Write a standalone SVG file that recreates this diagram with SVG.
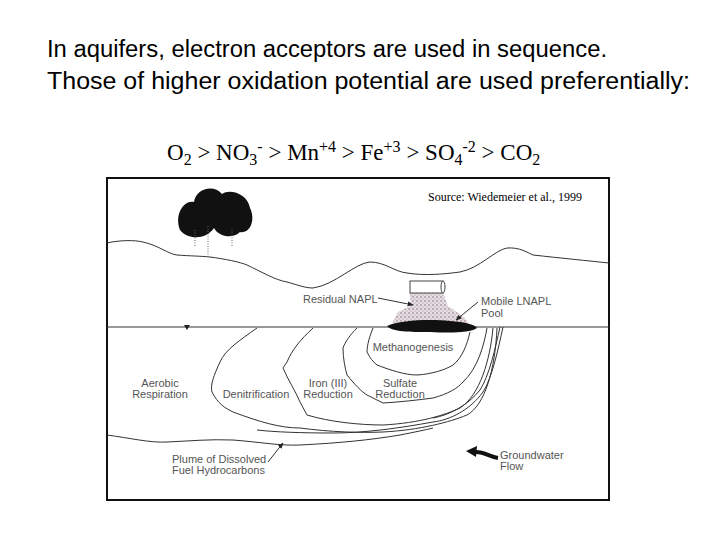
<svg xmlns="http://www.w3.org/2000/svg" width="720" height="540" viewBox="0 0 720 540">
<style>
.t{font-family:"Liberation Sans",Arial,sans-serif;font-size:23px;fill:#000}
.f{font-family:"Liberation Serif","Times New Roman",serif;font-size:23px;fill:#000}
.l{font-family:"Liberation Sans",Arial,sans-serif;font-size:11px;fill:#555}
.ln{fill:none;stroke:#333;stroke-width:1}
</style>
<defs>
<marker id="ah" viewBox="0 0 10 10" refX="9" refY="5" markerWidth="6" markerHeight="6" orient="auto"><path d="M0,1 L10,5 L0,9 z" fill="#222"/></marker>
<pattern id="st" width="4" height="4" patternUnits="userSpaceOnUse"><rect width="4" height="4" fill="#e6dde2"/><circle cx="1" cy="1" r="0.8" fill="#8a7080"/><circle cx="3" cy="3" r="0.6" fill="#a08898"/></pattern>
</defs>
<rect width="720" height="540" fill="#fff"/>
<text class="t" x="47" y="57" textLength="560" lengthAdjust="spacingAndGlyphs">In aquifers, electron acceptors are used in sequence.</text>
<text class="t" x="47" y="89" textLength="643" lengthAdjust="spacingAndGlyphs">Those of higher oxidation potential are used preferentially:</text>
<text class="f" x="167" y="160">O<tspan font-size="16" dy="5">2</tspan><tspan dy="-5"> &gt; NO</tspan><tspan font-size="16" dy="5">3</tspan><tspan font-size="16" dy="-13">-</tspan><tspan dy="8"> &gt; Mn</tspan><tspan font-size="16" dy="-8">+4</tspan><tspan dy="8"> &gt; Fe</tspan><tspan font-size="16" dy="-8">+3</tspan><tspan dy="8"> &gt; SO</tspan><tspan font-size="16" dy="5">4</tspan><tspan font-size="16" dy="-13">-2</tspan><tspan dy="8"> &gt; CO</tspan><tspan font-size="16" dy="5">2</tspan></text>
<g id="scene">
<rect x="107" y="178" width="502" height="322" fill="#fff" stroke="#111" stroke-width="2"/>
<text x="428" y="201" font-family="Liberation Serif,serif" font-size="12" fill="#000">Source: Wiedemeier et al., 1999</text>
<g id="trees">
<path d="M180,230 C174,214 184,200 194,202 C196,188 214,184 222,194 C230,188 248,194 250,208 C256,220 250,234 240,232 C232,240 218,236 214,228 C206,240 188,240 180,230 Z" fill="#111"/>
<path d="M195,230 V246 M208,226 V256 M232,230 V246" stroke="#666" stroke-dasharray="1,1.5"/>
</g>
<path class="ln" d="M107,243 C120,240 135,240 143,242 C160,246 168,254 177,255 C190,256 200,256 210,257 C225,259 240,262 247,265 C262,272 275,280 287,282 C298,285 305,288 313,288 C335,285 355,263 370,262 C385,262 395,272 407,273 C425,276 445,274 460,272 C480,268 495,250 507,248 C520,247 528,253 533,255 C560,258 590,261 609,263"/>
<path class="ln" d="M107,327 H609"/>
<path d="M184,325 L190,325 L187,330 Z" fill="#222"/>
<path class="ln" d="M107,435 C130,438 150,443 167,442 C190,441 210,439 233,440 C260,442 280,446 300,445 C340,443 370,440 400,435 C415,432 425,430 433,428"/>
<g id="plume">
<path class="ln" d="M257,328 C240,340 225,350 220,362 C214,375 210,385 212,392 C218,404 225,408 233,412 C260,422 280,428 300,428 C330,432 360,433 383,432 C420,430 450,422 467,415 C485,405 495,370 497,328"/>
<path class="ln" d="M313,328 C300,340 292,350 287,362 L283,368 C288,380 296,392 300,402 L307,415 C330,422 360,425 383,425 C420,423 445,415 460,408 C480,395 490,360 493,328"/>
<path class="ln" d="M357,328 C350,335 345,342 343,348 C343,358 345,368 347,375 C355,385 362,392 367,395 L383,403 C400,402 418,400 433,398 C448,394 458,388 463,382 C478,368 484,345 487,328"/>
<path class="ln" d="M373,328 C370,335 367,345 367,352 C370,358 373,362 377,365 C390,370 405,375 417,375 C432,374 445,370 453,365 C462,358 467,345 470,332"/>
<path class="ln" d="M503,327 C498,350 492,378 483,392 C470,410 450,420 433,422 C400,428 365,433 333,433 C300,433 275,432 257,430"/>
<path class="ln" d="M500,327 C495,350 489,376 480,390 C468,405 450,415 433,418"/>
</g>
<g id="napl">
<path d="M410,293 L443,293 L448,306 L465,318 L470,327 L390,327 L398,312 L410,306 Z" fill="url(#st)"/>
<rect x="410" y="281" width="33" height="12" fill="#fff" stroke="#444"/>
<ellipse cx="443" cy="287" rx="2" ry="6" fill="#fff" stroke="#444"/>
<path d="M387,326 C400,320 430,319 450,321 C465,322 476,325 477,328 C470,333 450,333 430,332 C410,332 392,332 387,326 Z" fill="#111"/>
</g>
<text class="l" x="303" y="303">Residual NAPL</text>
<path d="M378,298 L413,305" stroke="#333" marker-end="url(#ah)"/>
<text class="l" x="481" y="305">Mobile LNAPL</text>
<text class="l" x="481" y="317">Pool</text>
<path d="M478,302 L456,320" stroke="#333" marker-end="url(#ah)"/>
<text class="l" x="413" y="351" text-anchor="middle">Methanogenesis</text>
<text class="l" x="160" y="387" text-anchor="middle">Aerobic</text>
<text class="l" x="160" y="398" text-anchor="middle">Respiration</text>
<text class="l" x="256" y="398" text-anchor="middle">Denitrification</text>
<text class="l" x="328" y="387" text-anchor="middle">Iron (III)</text>
<text class="l" x="328" y="398" text-anchor="middle">Reduction</text>
<text class="l" x="400" y="387" text-anchor="middle">Sulfate</text>
<text class="l" x="400" y="398" text-anchor="middle">Reduction</text>
<text class="l" x="172" y="463">Plume of Dissolved</text>
<text class="l" x="172" y="474">Fuel Hydrocarbons</text>
<path d="M268,462 L283,443" stroke="#333" marker-end="url(#ah)"/>
<text class="l" x="500" y="459">Groundwater</text>
<text class="l" x="500" y="470">Flow</text>
<path d="M498,458 C490,457 485,452 476,452" stroke="#111" stroke-width="4" fill="none"/>
<path d="M466,451 L477,446 L476,457 Z" fill="#111"/>
</g>
</svg>
